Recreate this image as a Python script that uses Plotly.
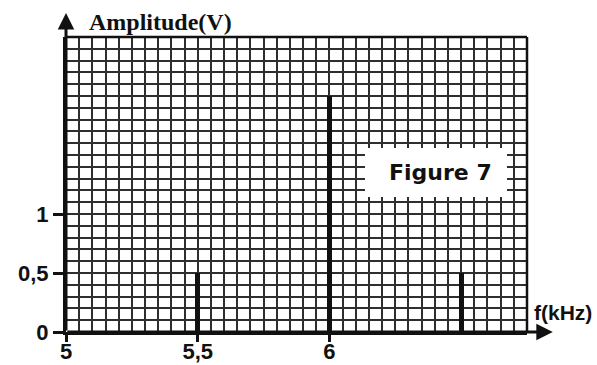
import plotly.graph_objects as go

# Spectrum lines: frequency (kHz) and amplitude (V)
freqs = [5.5, 6.0, 6.5]
amps = [0.5, 2.0, 0.5]

x_tickvals = [5, 5.5, 6]
x_ticktext = ["5", "5,5", "6"]
y_tickvals = [0, 0.5, 1]
y_ticktext = ["0", "0,5", "1"]

X_RANGE = [5, 6.75]
Y_RANGE = [0, 2.5]

ink = "#111111"
grid_col = "#2e2e2e"
grid_w = 2.1
tick_font = dict(family="Liberation Sans, Arial, sans-serif", size=22, color=ink, weight="bold")

fig = go.Figure()
fig.add_trace(go.Bar(
    x=freqs, y=amps, width=0.019,
    marker=dict(color=ink, line=dict(width=0)),
    showlegend=False, hoverinfo="x+y",
))

fig.update_layout(
    width=597, height=365,
    margin=dict(l=66, r=70, t=37, b=33, autoexpand=False),
    paper_bgcolor="white", plot_bgcolor="white",
    bargap=0,
    xaxis=dict(
        range=X_RANGE, tickmode="array", tickvals=x_tickvals, ticktext=x_ticktext,
        tickfont=tick_font, ticks="outside", ticklen=7, tickwidth=2.5, tickcolor=ink,
        ticklabelstandoff=-9,
        showgrid=True, gridcolor=grid_col, gridwidth=grid_w,
        minor=dict(dtick=0.05, showgrid=True, gridcolor=grid_col, gridwidth=grid_w, ticks=""),
        showline=True, linecolor=ink, linewidth=3, mirror=False,
        zeroline=False, fixedrange=True, automargin=False,
    ),
    yaxis=dict(
        range=Y_RANGE, tickmode="array", tickvals=y_tickvals, ticktext=y_ticktext,
        tickfont=tick_font, ticks="outside", ticklen=10, tickwidth=2.5, tickcolor=ink,
        showgrid=True, gridcolor=grid_col, gridwidth=grid_w,
        minor=dict(dtick=0.1, showgrid=True, gridcolor=grid_col, gridwidth=grid_w, ticks=""),
        showline=True, linecolor=ink, linewidth=3, mirror=False,
        zeroline=False, fixedrange=True, automargin=False,
    ),
)

# Frame on top and right edges of the graph paper
fig.add_shape(type="line", xref="paper", yref="paper", x0=0, x1=1, y0=1, y1=1,
              line=dict(color=ink, width=2.5))
fig.add_shape(type="line", xref="paper", yref="paper", x0=1, x1=1, y0=0, y1=1,
              line=dict(color=ink, width=2.5))

# White label panel on the grid
fig.add_shape(type="rect", xref="x", yref="y", x0=6.135, x1=6.674, y0=1.144, y1=1.56,
              fillcolor="white", line=dict(width=0), layer="above")
fig.add_annotation(x=6.42, y=1.35, xref="x", yref="y", text="Figure 7", showarrow=False,
                   font=dict(family="DejaVu Sans, sans-serif", size=22, color=ink, weight="bold"))

# Axis arrows
fig.add_annotation(x=1.056, y=0, xref="paper", yref="y", ax=-487, ay=0,
                   axref="pixel", ayref="pixel", text="", showarrow=True,
                   arrowhead=2, arrowsize=1.1, arrowwidth=3, arrowcolor=ink)
fig.add_annotation(x=0, y=1.081, xref="x domain", yref="paper", ax=0, ay=319,
                   axref="pixel", ayref="pixel", text="", showarrow=True,
                   arrowhead=2, arrowsize=1.1, arrowwidth=3, arrowcolor=ink)

# Axis names
fig.add_annotation(x=0.046, y=1.051, xref="paper", yref="paper", xanchor="left", yanchor="middle",
                   text="Amplitude(V)", showarrow=False,
                   font=dict(family="Liberation Serif, Times New Roman, serif", size=24,
                             color=ink, weight="bold"))
fig.add_annotation(x=1.078, y=0.066, xref="paper", yref="paper", xanchor="center", yanchor="middle",
                   text="f(kHz)", showarrow=False,
                   font=dict(family="Liberation Sans, Arial, sans-serif", size=21,
                             color=ink, weight="bold"))

fig.write_html("out.html")
